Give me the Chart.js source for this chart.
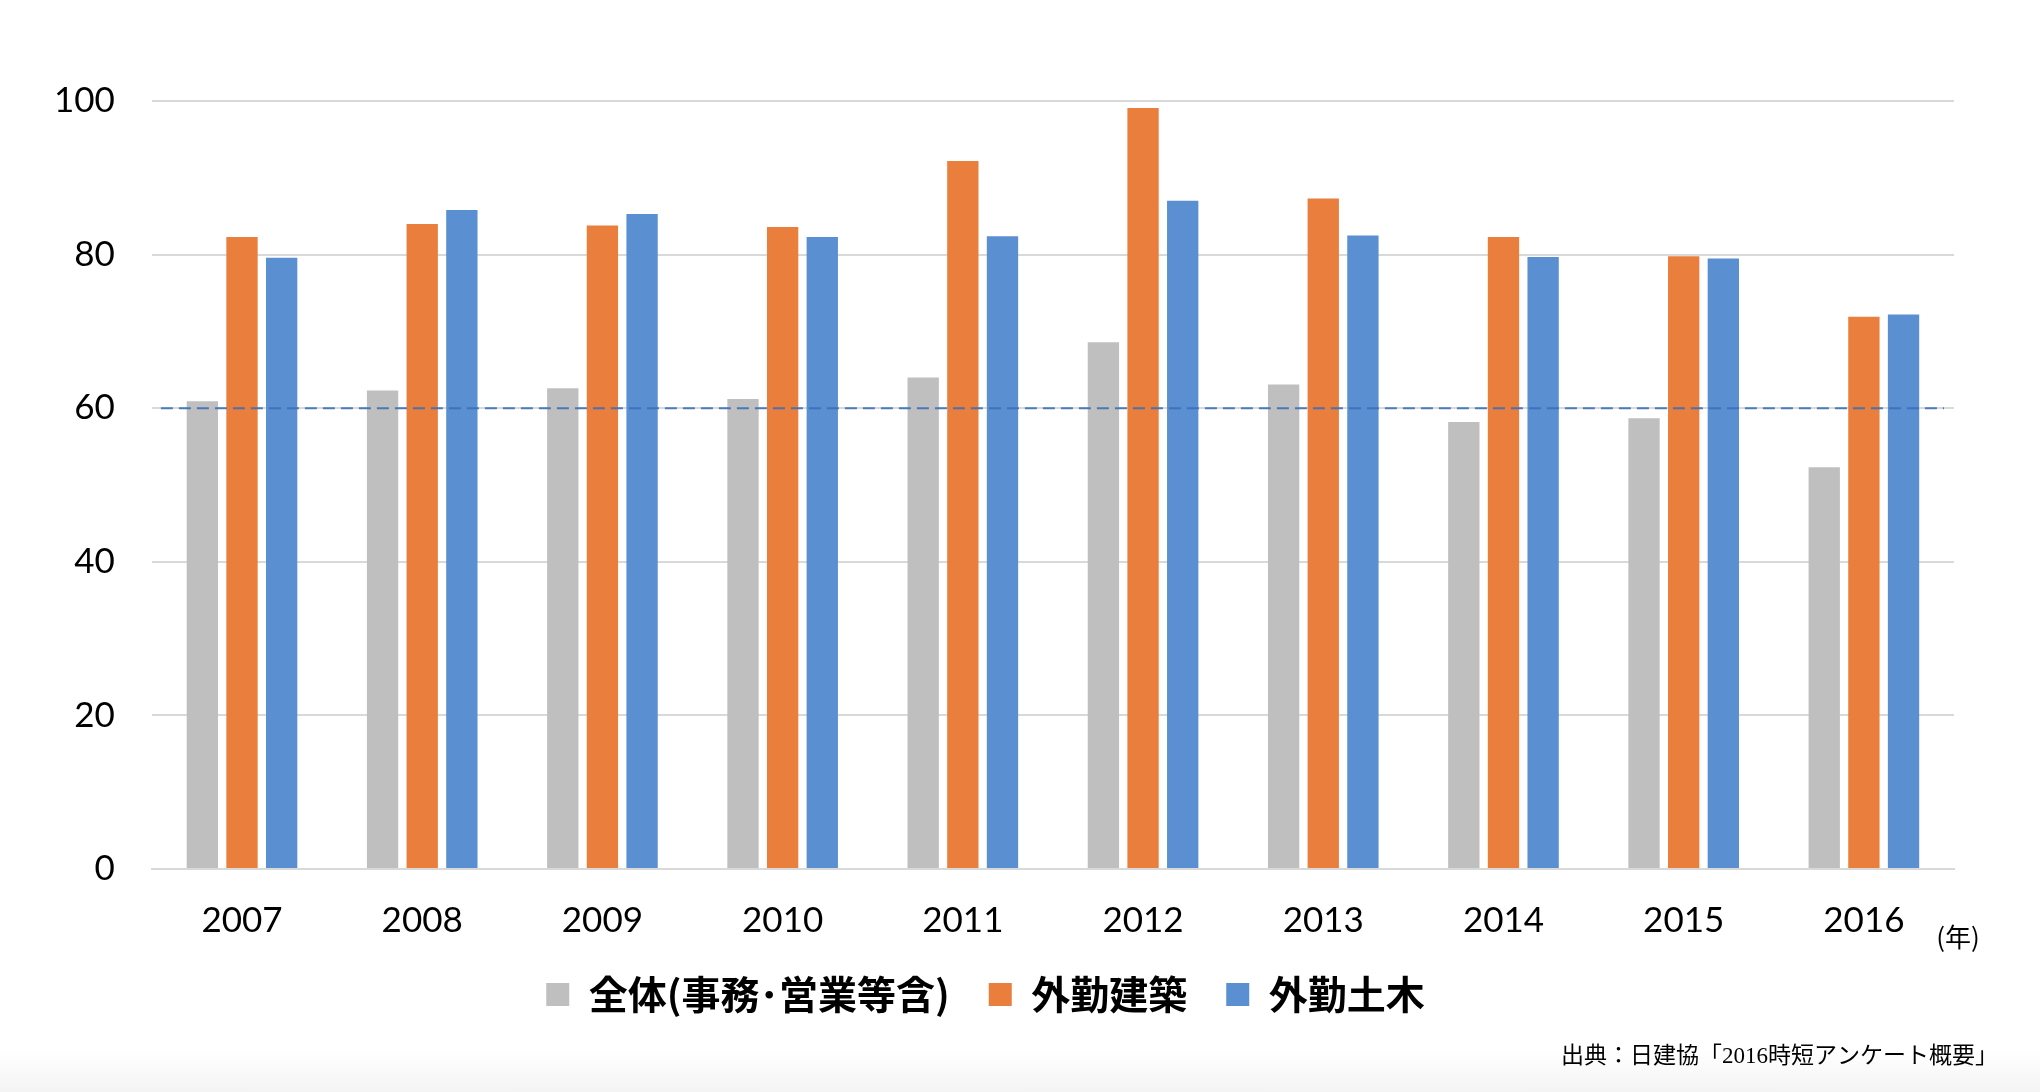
<!DOCTYPE html>
<html>
<head>
<meta charset="utf-8">
<script src="https://cdn.jsdelivr.net/npm/chart.js@4/dist/chart.umd.min.js"></script>
<style>
  body { margin: 0; background: linear-gradient(to bottom, #ffffff 0px, #ffffff 1050px, #f4f4f4 1092px); }
  #wrap { width: 2040px; height: 1092px; position: relative; }
</style>
</head>
<body>
<div id="wrap"><canvas id="myChart"></canvas></div>
<script>
var years = ["2007", "2008", "2009", "2010", "2011", "2012", "2013", "2014", "2015", "2016"];
var zentai = [60.9, 62.3, 62.6, 61.2, 64.0, 68.6, 63.1, 58.2, 58.7, 52.3];
var kenchiku = [82.3, 84.0, 83.8, 83.6, 92.2, 99.1, 87.3, 82.3, 79.8, 71.9];
var doboku = [79.6, 85.8, 85.3, 82.3, 82.4, 87.0, 82.5, 79.7, 79.5, 72.2];
var seriesNames = ["全体(事務･営業等含)", "外勤建築", "外勤土木"];
var yTicks = [0, 20, 40, 60, 80, 100];
var refValue = 60;
var unitLabel = "(年)";
var sourceText = "出典：日建協「2016時短アンケート概要」";

var sansFont = "Lato, 'Noto Sans CJK JP', sans-serif";

// dashed line at 60 + small texts
var extras = {
    id: 'extras',
    afterDatasetsDraw: function(chart){
        var ctx = chart.ctx;
        var area = chart.chartArea;
        var y = chart.scales.y.getPixelForValue(refValue);
        ctx.save();
        ctx.strokeStyle = 'rgba(58, 112, 186, 0.9)';
        ctx.lineWidth = 2;
        ctx.setLineDash([12, 6]);
        ctx.beginPath();
        ctx.moveTo(area.left + 9, y);
        ctx.lineTo(area.right - 10, y);
        ctx.stroke();
        ctx.restore();
    },
    afterDraw: function(chart){
        var ctx = chart.ctx;
        var area = chart.chartArea;
        ctx.save();
        ctx.fillStyle = '#000';
        ctx.textBaseline = 'middle';
        ctx.textAlign = 'center';
        ctx.font = "26px 'Noto Sans CJK JP'";
        ctx.fillText(unitLabel, area.right + 4, 937);
        ctx.textAlign = 'right';
        ctx.font = "23px 'Liberation Serif', 'Noto Sans CJK JP', serif";
        ctx.fillText(sourceText, 1998, 1057);
        ctx.restore();
    }
};

var ctx = document.getElementById('myChart').getContext('2d');
var chart = new Chart(ctx, {
    type: 'bar',
    data: {
        labels: years,
        datasets: [{
            label: seriesNames[0],
            backgroundColor: '#bfbfbf',
            data: zentai
        },{
            label: seriesNames[1],
            backgroundColor: '#ea7e3d',
            data: kenchiku
        },{
            label: seriesNames[2],
            backgroundColor: '#5a8fd1',
            data: doboku
        }]
    },
    options: {
        responsive: true,
        maintainAspectRatio: false,
        animation: false,
        categoryPercentage: 0.66,
        barPercentage: 0.79,
        layout: { padding: { top: 101, left: 17, right: 86, bottom: 68 } },
        scales: {
            x: {
                grid: { display: false, drawTicks: false },
                border: { display: true, color: '#d9d9d9', width: 2 },
                ticks: { color: '#000', padding: 34, font: { family: sansFont, size: 35, lineHeight: 1 } },
                afterFit: function(scale){ scale.height = 67; }
            },
            y: {
                min: 0,
                max: 100,
                afterBuildTicks: function(scale){
                    scale.ticks = yTicks.map(function(v){ return { value: v }; });
                },
                grid: { color: '#d9d9d9', lineWidth: 2, drawTicks: false },
                border: { display: false },
                ticks: { color: '#000', padding: 37, font: { family: sansFont, size: 35 } }
            }
        },
        plugins: {
            legend: {
                position: 'bottom',
                labels: {
                    boxWidth: 23,
                    boxHeight: 23,
                    padding: 39,
                    color: '#000',
                    font: { family: "'Noto Sans CJK JP', sans-serif", size: 39, weight: 'bold' }
                }
            },
            tooltip: { enabled: false }
        }
    },
    plugins: [extras]
});
</script>
</body>
</html>
